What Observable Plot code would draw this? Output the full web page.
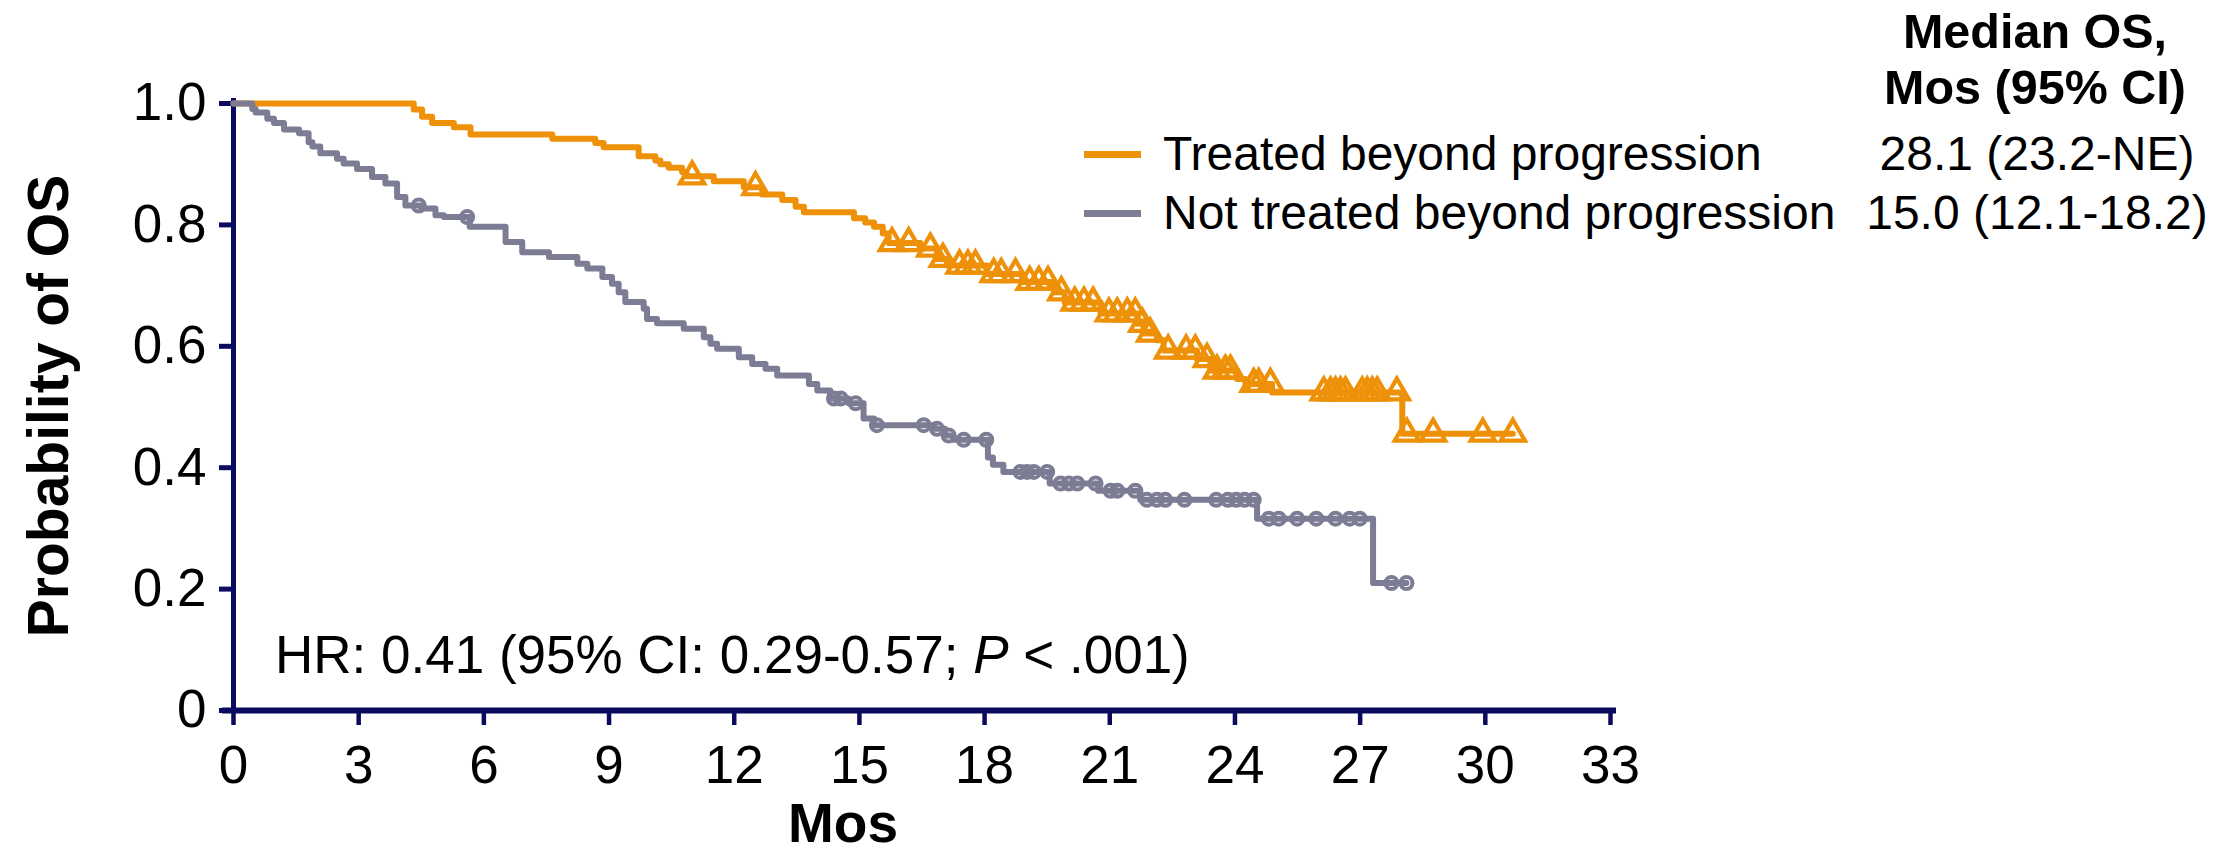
<!DOCTYPE html>
<html>
<head>
<meta charset="utf-8">
<script src="https://cdn.jsdelivr.net/npm/d3@7"></script>
<script src="https://cdn.jsdelivr.net/npm/@observablehq/plot@0.6"></script>
<style>
  html, body { margin: 0; padding: 0; background: #fff; }
  #wrap { position: relative; width: 2236px; height: 856px; overflow: hidden;
          font-family: "Liberation Sans", Arial, sans-serif; color: #000; }
  #wrap svg { position: absolute; left: 0; top: 0; }
  .t { position: absolute; white-space: nowrap; line-height: 1; }
  .sw { position: absolute; }
</style>
</head>
<body>
<div id="wrap"></div>
<script>
// Kaplan-Meier overall survival: event times (months) and survival after each step
const treatedTimes = [0, 4.32, 4.52, 4.76, 5.28, 5.68, 7.64, 8.67, 8.87, 9.71, 10.11, 10.23, 10.43, 10.75, 10.85, 11.51, 12.23, 12.67, 13.15, 13.47, 13.67, 14.87, 15.14, 15.35, 15.56, 15.70, 16.46, 16.86, 17.10, 18.06, 18.90, 19.66, 19.92, 20.78, 21.66, 21.81, 22.13, 22.29, 23.09, 23.41, 24.05, 24.25, 24.89, 28.01];
const treatedSurv = [1.0, 0.990, 0.978, 0.968, 0.961, 0.949, 0.942, 0.935, 0.928, 0.913, 0.906, 0.900, 0.894, 0.887, 0.880, 0.872, 0.862, 0.850, 0.841, 0.830, 0.821, 0.811, 0.804, 0.797, 0.786, 0.770, 0.761, 0.744, 0.733, 0.719, 0.706, 0.689, 0.672, 0.654, 0.637, 0.621, 0.610, 0.593, 0.579, 0.560, 0.546, 0.538, 0.524, 0.456];
const treatedLastFollowUp = 30.66;
const treatedCensored = [10.99, 12.51, 15.78, 16.18, 16.70, 17.00, 17.40, 17.60, 17.78, 18.22, 18.40, 18.74, 19.08, 19.30, 19.52, 19.84, 20.16, 20.38, 20.60, 20.98, 21.18, 21.42, 21.61, 21.78, 21.97, 22.40, 22.83, 23.05, 23.33, 23.57, 23.77, 23.89, 24.45, 24.57, 24.85, 26.13, 26.29, 26.41, 26.53, 26.65, 27.05, 27.17, 27.29, 27.41, 27.88, 28.12, 28.75, 29.94, 30.66];

const notTreatedTimes = [0, 0.45, 0.53, 0.81, 0.97, 1.21, 1.57, 1.80, 1.89, 2.08, 2.48, 2.64, 2.96, 3.32, 3.64, 3.92, 4.12, 4.50, 4.84, 5.04, 5.66, 6.52, 6.92, 7.56, 8.24, 8.48, 8.84, 9.07, 9.23, 9.39, 9.83, 9.91, 10.15, 10.79, 11.27, 11.43, 11.59, 12.11, 12.43, 12.75, 13.03, 13.79, 13.99, 14.30, 14.74, 15.10, 15.35, 16.80, 17.05, 17.25, 18.08, 18.20, 18.45, 19.56, 20.72, 21.73, 24.53, 27.31];
const notTreatedSurv = [1.0, 0.991, 0.985, 0.975, 0.968, 0.957, 0.951, 0.936, 0.929, 0.918, 0.909, 0.901, 0.892, 0.879, 0.868, 0.846, 0.832, 0.827, 0.816, 0.813, 0.797, 0.772, 0.755, 0.747, 0.736, 0.728, 0.714, 0.703, 0.689, 0.673, 0.662, 0.645, 0.638, 0.629, 0.615, 0.604, 0.596, 0.582, 0.571, 0.563, 0.552, 0.538, 0.527, 0.514, 0.506, 0.481, 0.470, 0.464, 0.453, 0.446, 0.417, 0.405, 0.393, 0.374, 0.362, 0.347, 0.316, 0.210];
const notTreatedLastFollowUp = 28.11;
const notTreatedCensored = [4.44, 5.60, 14.39, 14.55, 14.91, 15.42, 16.54, 16.86, 17.14, 17.50, 18.04, 18.86, 19.02, 19.18, 19.50, 19.82, 20.02, 20.22, 20.66, 21.02, 21.18, 21.61, 21.89, 22.13, 22.33, 22.79, 23.55, 23.83, 24.03, 24.23, 24.45, 24.81, 25.05, 25.49, 25.95, 26.41, 26.75, 26.99, 27.75, 28.11];

// Legend / summary table
const groups = ["Treated beyond progression", "Not treated beyond progression"];
const medianOS = ["28.1 (23.2-NE)", "15.0 (12.1-18.2)"];
const groupColors = ["#EE9108", "#7C7C94"];
const tableHeader = ["Median OS,", "Mos (95% CI)"];
const hazardText = ["HR: 0.41 (95% CI: 0.29-0.57; ", "P", " < .001)"];

// Axes
const xTicks = [0, 3, 6, 9, 12, 15, 18, 21, 24, 27, 30, 33];
const yTicks = [0, 0.2, 0.4, 0.6, 0.8, 1.0];
const yTickLabels = ["0", "0.2", "0.4", "0.6", "0.8", "1.0"];
const xTitle = "Mos";
const yTitle = "Probability of OS";

const navy = "#0A0A5E";

function stepRows(times, surv, end) {
  const rows = times.map((t, i) => ({t, s: surv[i]}));
  rows.push({t: end, s: surv[surv.length - 1]});
  return rows;
}
function censorRows(times, surv, censored) {
  return censored.map(t => ({t, s: surv[d3.bisectRight(times, t) - 1]}));
}

const treatedLine = stepRows(treatedTimes, treatedSurv, treatedLastFollowUp);
const treatedMarks = censorRows(treatedTimes, treatedSurv, treatedCensored);
const notTreatedLine = stepRows(notTreatedTimes, notTreatedSurv, notTreatedLastFollowUp);
const notTreatedMarks = censorRows(notTreatedTimes, notTreatedSurv, notTreatedCensored);

const chart = Plot.plot({
  width: 2236,
  height: 856,
  marginLeft: 233,
  marginRight: 626,
  marginTop: 103,
  marginBottom: 146,
  x: {domain: [0, 33]},
  y: {domain: [0, 1]},
  style: {
    fontFamily: '"Liberation Sans", Arial, sans-serif',
    fontSize: "53px",
    color: "black",
    background: "transparent",
    overflow: "visible"
  },
  marks: [
    Plot.axisY({
      ticks: yTicks,
      tickFormat: d => yTickLabels[yTicks.indexOf(d)],
      tickSize: 14, tickPadding: 13,
      stroke: navy, strokeWidth: 5, fill: "black",
      fontSize: 53, label: null
    }),
    Plot.axisX({
      ticks: xTicks,
      tickFormat: d => String(d),
      tickSize: 15, tickPadding: 20,
      stroke: navy, strokeWidth: 4.5, fill: "black",
      fontSize: 53, label: null
    }),
    Plot.ruleX([0], {stroke: navy, strokeWidth: 5, insetTop: -5}),
    Plot.ruleY([0], {stroke: navy, strokeWidth: 6, insetLeft: -11, insetRight: -6}),
    Plot.line(treatedLine, {x: "t", y: "s", curve: "step-after", stroke: groupColors[0], strokeWidth: 6}),
    Plot.dot(treatedMarks, {x: "t", y: "s", symbol: "triangle", r: 9, stroke: groupColors[0], strokeWidth: 4.2, fill: "none"}),
    Plot.line(notTreatedLine, {x: "t", y: "s", curve: "step-after", stroke: groupColors[1], strokeWidth: 6}),
    Plot.dot(notTreatedMarks, {x: "t", y: "s", symbol: "circle", r: 6, stroke: groupColors[1], strokeWidth: 4, fill: "none"})
  ]
});

const wrap = document.getElementById("wrap");
wrap.appendChild(chart);

// Text overlays: baseline-positioned spans (line-height 1)
function addText(str, {left, baseline, size, bold = false, align = "left", html = false}) {
  const el = document.createElement("span");
  el.className = "t";
  if (html) el.innerHTML = str; else el.textContent = str;
  el.style.fontSize = size + "px";
  el.style.fontWeight = bold ? "bold" : "normal";
  el.style.top = (baseline - 0.8465 * size) + "px";
  el.style.left = left + "px";
  if (align === "center") el.style.transform = "translateX(-50%)";
  wrap.appendChild(el);
  return el;
}

// Summary table header
addText(tableHeader[0], {left: 2035, baseline: 48, size: 48.5, bold: true, align: "center"});
addText(tableHeader[1], {left: 2035, baseline: 104, size: 48.5, bold: true, align: "center"});

// Legend rows with median OS
const rowBaselines = [171, 230];
groups.forEach((g, i) => {
  const sw = document.createElement("div");
  sw.className = "sw";
  sw.style.left = "1084px";
  sw.style.width = "57px";
  sw.style.top = (rowBaselines[i] - 17 - 3.5) + "px";
  sw.style.height = "7px";
  sw.style.background = groupColors[i];
  wrap.appendChild(sw);
  addText(g, {left: 1163, baseline: rowBaselines[i], size: 48});
  addText(medianOS[i], {left: 2037, baseline: rowBaselines[i], size: 48, align: "center"});
});

// Hazard ratio annotation
addText(hazardText[0] + "<i>" + hazardText[1] + "</i>" + hazardText[2], {left: 275, baseline: 673, size: 53, html: true});

// Axis titles
addText(xTitle, {left: 843, baseline: 846, size: 55, bold: true, align: "center"}).style.lineHeight = "0.9";
const yt = document.createElement("span");
yt.className = "t";
yt.textContent = yTitle;
yt.style.fontSize = "57px";
yt.style.fontWeight = "bold";
yt.style.left = "48px";
yt.style.top = "406px";
yt.style.transform = "translate(-50%, -50%) rotate(-90deg)";
wrap.appendChild(yt);
</script>
</body>
</html>
